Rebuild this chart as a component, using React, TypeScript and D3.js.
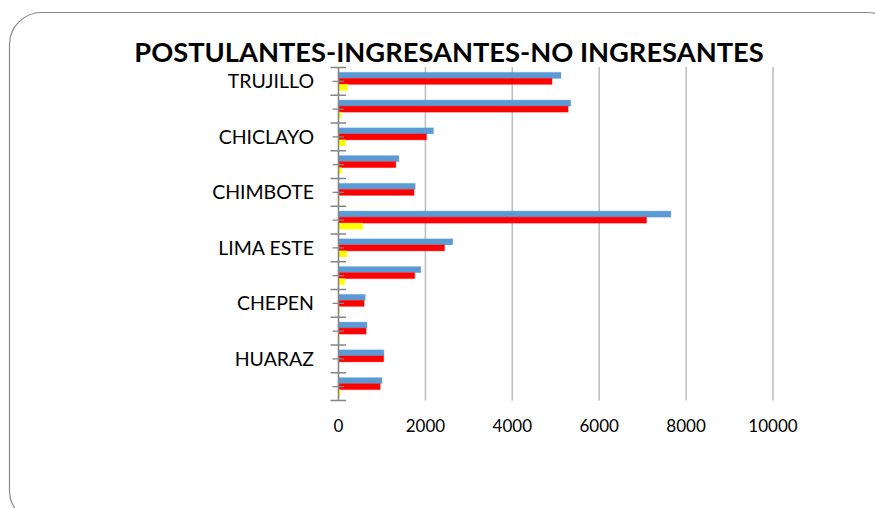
import React from "react";
import * as d3 from "d3";

const title = "POSTULANTES-INGRESANTES-NO INGRESANTES";
const categoryLabels = ["TRUJILLO", "", "CHICLAYO", "", "CHIMBOTE", "", "LIMA ESTE", "", "CHEPEN", "", "HUARAZ", ""];
const postulantes = [5120, 5345, 2185, 1390, 1765, 7650, 2630, 1895, 615, 655, 1045, 1000];
const ingresantes = [4915, 5285, 2025, 1320, 1740, 7090, 2440, 1755, 590, 635, 1040, 960];
const noIngresantes = [205, 60, 160, 70, 25, 560, 190, 140, 25, 20, 5, 40];
const seriesNames = ["Postulantes", "Ingresantes", "No ingresantes"];
const seriesColors = ["#5B9BD5", "#FF0000", "#FFFF00"];
const xTicks = [0, 2000, 4000, 6000, 8000, 10000];

const W = 875;
const H = 508;
const FONT = "Lato, 'Open Sans', sans-serif";

export default function App() {
  const x = d3.scaleLinear().domain([0, 10000]).range([338.5, 773]);
  const idx = categoryLabels.map((_, i) => i);
  const y = d3.scaleBand<number>().domain(idx).range([67.5, 400.5]).paddingInner(0.35).paddingOuter(0.175);
  const yOuter = d3.scaleBand<number>().domain(idx).range([67.5, 400.5]);
  const inner = d3.scaleBand<string>().domain(seriesNames).range([0, y.bandwidth()]);
  const seriesData = [postulantes, ingresantes, noIngresantes];
  const step = yOuter.step();
  const boundaries = d3.range(categoryLabels.length + 1).map((i) => 67.5 + i * step);

  return (
    <svg width={W} height={H} style={{ position: "absolute", left: 0, top: 0, background: "#fff" }}>
      <rect x={9.5} y={12.5} width={890} height={510} rx={32} ry={32} fill="#fff" stroke="#8a8a8a" strokeWidth={1.2} />
      <text x={449} y={62} textAnchor="middle" fontFamily={FONT} fontWeight={700} fontSize={27.3} fill="#000">
        {title}
      </text>
      {xTicks.slice(1).map((t) => (
        <line key={"g" + t} x1={x(t)} x2={x(t)} y1={67} y2={400.5} stroke="#c0c0c0" strokeWidth={1.6} />
      ))}
      {seriesData.map((vals, s) =>
        vals.map((v, i) => (
          <rect
            key={s + "-" + i}
            x={x(0)}
            y={(y(i) as number) + (inner(seriesNames[s]) as number)}
            width={x(v) - x(0)}
            height={inner.bandwidth()}
            fill={seriesColors[s]}
            stroke={seriesColors[s]}
            strokeOpacity={0.35}
            strokeWidth={1}
          />
        ))
      )}
      <line x1={x(0)} x2={x(0)} y1={67} y2={400.5} stroke="#868686" strokeWidth={1.6} />
      {boundaries.map((b, i) => (
        <line key={"mj" + i} x1={330.5} x2={346} y1={b} y2={b} stroke="#868686" strokeWidth={1.5} />
      ))}
      {idx.map((i) => (
        <line key={"mn" + i} x1={332.5} x2={344} y1={(yOuter(i) as number) + step / 2} y2={(yOuter(i) as number) + step / 2} stroke="#868686" strokeWidth={1.3} />
      ))}
      {categoryLabels.map((l, i) =>
        l ? (
          <text key={"l" + i} x={314} y={(yOuter(i) as number) + step / 2} dy="0.36em" textAnchor="end" fontFamily={FONT} fontSize={19.5} fill="#000">
            {l}
          </text>
        ) : null
      )}
      {xTicks.map((t) => (
        <text key={"t" + t} x={x(t)} y={432} textAnchor="middle" fontFamily={FONT} fontSize={17} fill="#000">
          {t}
        </text>
      ))}
    </svg>
  );
}
